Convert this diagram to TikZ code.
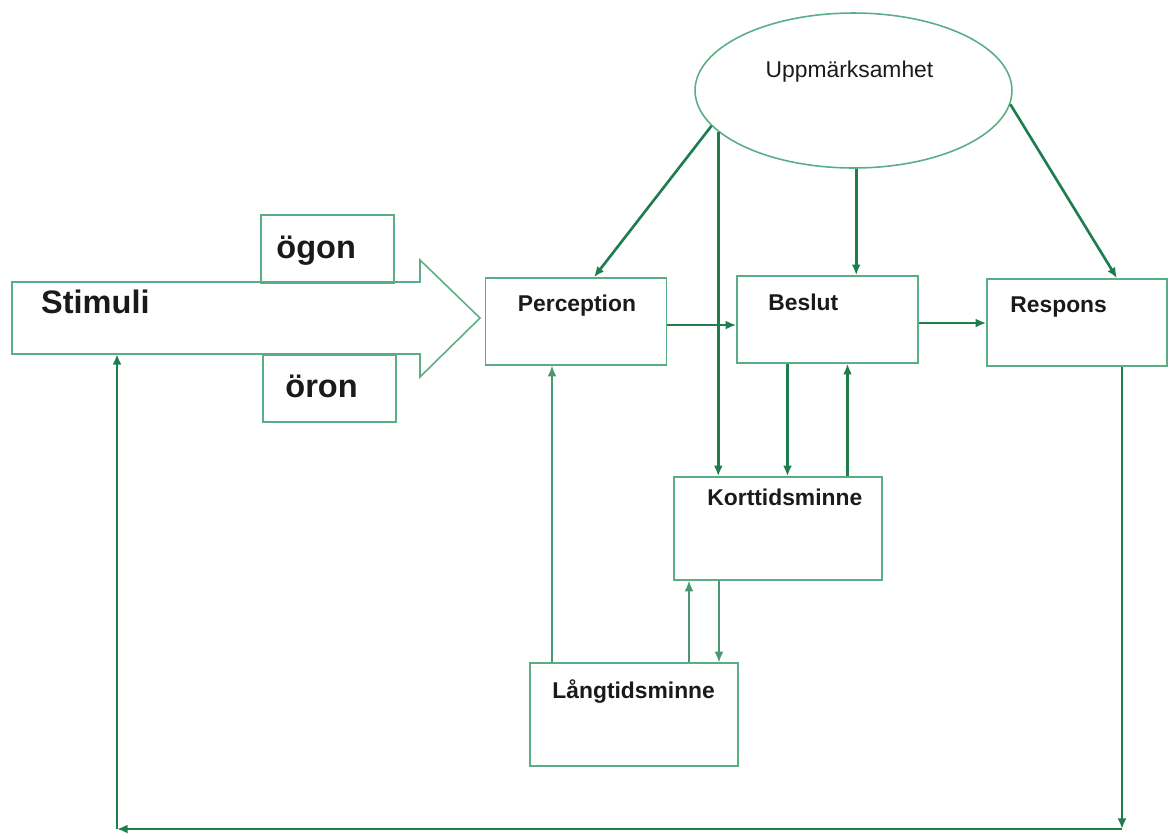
\documentclass[tikz,border=0pt]{standalone}
\usepackage{fontspec}
\setmainfont{Liberation Sans}
\usetikzlibrary{arrows.meta,calc,positioning,shapes.geometric}
\definecolor{frame}{HTML}{5AAE86}
\definecolor{flow}{HTML}{1D7D4E}
\definecolor{ink}{HTML}{1A1A1A}

\begin{document}
\begin{tikzpicture}[x=0.02cm, y=-0.02cm, text=ink, >={Latex[length=6pt,width=5pt]},
  box/.style={draw=frame, line width=0.9pt, inner sep=0pt},
  lbl/.style={font=\bfseries\fontsize{13}{15}\selectfont, anchor=base west},
  big/.style={font=\bfseries\fontsize{18.5}{21}\selectfont, anchor=base west},
  arr/.style={->, flow, line width=1.5pt},
  thin/.style={->, flow!80, line width=0.8pt}]
  \useasboundingbox (0,0) rectangle (1171,833);

  % sense organs and the stimulus arrow
  \node[box, minimum width=2.66cm, minimum height=1.36cm] (ogon) at (327.5,249) {};
  \node[box, minimum width=2.66cm, minimum height=1.34cm] (oron) at (329.5,388.5) {};
  \draw[frame, line width=0.9pt] (12,282) -- (420,282) -- (420,260) -- (480,318) -- (420,377) -- (420,354) -- (12,354) -- cycle;
  \coordinate (stimin) at (117,354);
  \node[big] (stimT) at (35,313) {Stimuli};
  \node[big] (ogonT) at ($(ogon.north west)+(10,44)$) {ögon};
  \node[big] (oronT) at ($(oron.north west)+(17,43)$) {öron};

  % processing stages
  \node[box, minimum width=3.62cm, minimum height=1.74cm] (perc) at (576,321.5) {};
  \node[box, minimum width=3.62cm, minimum height=1.74cm] (besl) at (827.5,319.5) {};
  \node[box, minimum width=3.6cm, minimum height=1.74cm] (resp) at (1077,322.5) {};
  \node[box, minimum width=4.16cm, minimum height=2.06cm] (kort) at (778,528.5) {};
  \node[box, minimum width=4.16cm, minimum height=2.06cm] (lang) at (634,714.5) {};
  \node[box, ellipse, minimum width=6.34cm, minimum height=3.1cm] (upp) at (853.5,90.5) {};

  \node[lbl] (percT) at ($(perc.north west)+(27,34)$) {Perception};
  \node[lbl] (beslT) at ($(besl.north west)+(26,35)$) {Beslut};
  \node[lbl] (respT) at ($(resp.north west)+(18,34)$) {Respons};
  \node[lbl] (kortT) at ($(kort.north west)+(28,29)$) {Korttidsminne};
  \node[lbl] (langT) at ($(lang.north west)+(17,36)$) {Långtidsminne};
  \node[font=\fontsize{13}{15}\selectfont, anchor=base] (uppT) at ($(upp.center)+(-4,-13.5)$) {Uppmärksamhet};

  % attention
  \draw[arr] (upp.194) -- ($(perc.north)+(18,0)$);
  \draw[arr] (upp.197) -- (upp.197 |- kort.north);
  \draw[arr] (upp.-88) -- (upp.-88 |- besl.north);
  \draw[arr] (upp.-5) -- ($(resp.north)+(40,0)$);

  % main flow
  \coordinate (pb) at ($(perc.east)+(0,3.5)$);
  \coordinate (br) at ($(besl.east)+(0,3.5)$);
  \draw[arr] (pb) -- (pb -| besl.west);
  \draw[arr] (br) -- (br -| resp.west);
  \coordinate (bk) at ($(besl.south)+(-40,0)$);
  \coordinate (kb) at ($(besl.south)+(20,0)$);
  \draw[arr] (bk) -- (bk |- kort.north);
  \draw[arr] (kb |- kort.north) -- (kb);

  % memory
  \coordinate (lp) at ($(perc.south)+(-24,0)$);
  \coordinate (lk) at ($(lang.north)+(55,0)$);
  \coordinate (kl) at ($(lang.north)+(85,0)$);
  \draw[thin] (lp |- lang.north) -- (lp);
  \draw[thin] (lk) -- (lk |- kort.south);
  \draw[thin] (kl |- kort.south) -- (kl);

  % feedback loop
  \coordinate (rs) at ($(resp.south)+(45,0)$);
  \coordinate (c2) at (117,829);
  \coordinate (c1) at (rs |- c2);
  \draw[arr] (rs) -- (c1);
  \draw[arr] (c1) -- (c2);
  \draw[arr] (c2) -- (stimin);
\end{tikzpicture}
\end{document}
